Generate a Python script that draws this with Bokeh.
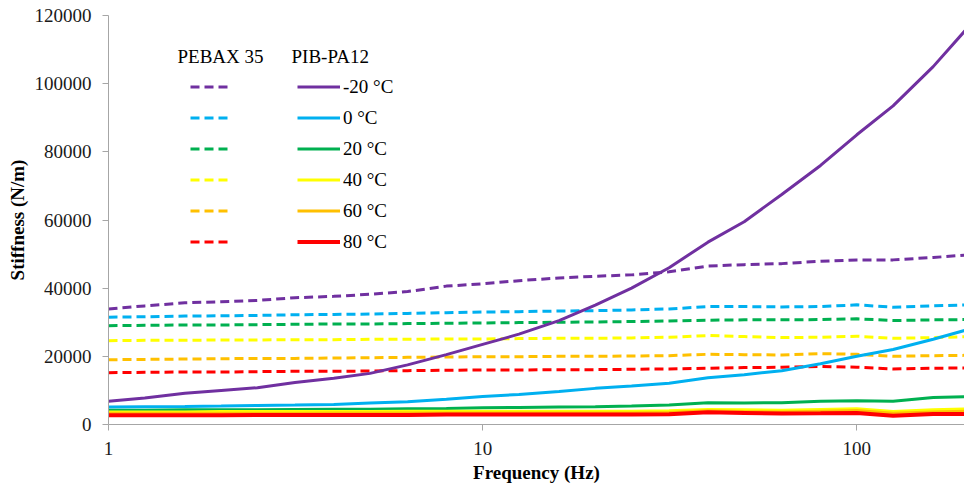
from bokeh.plotting import figure
from bokeh.models import (Range1d, FixedTicker, BasicTickFormatter, NumeralTickFormatter,
                          Legend, LegendItem, Label)
from bokeh.embed import file_html
from bokeh.resources import INLINE

# Frequency sweep (Hz)
freq = [1, 1.25, 1.6, 2, 2.5, 3.15, 4, 5, 6.3, 8, 10, 12.5, 16, 20, 25, 31.5,
        40, 50, 63, 80, 100, 125, 160, 200]

# PEBAX 35 stiffness (N/m)
pebax_m20 = [33900, 34800, 35700, 36000, 36400, 37200, 37600, 38200, 39000, 40600, 41300, 42200,
             43000, 43500, 43900, 44800, 46500, 46900, 47200, 47900, 48300, 48300, 49000, 49800]
pebax_0 = [31500, 31600, 31800, 31900, 32000, 32200, 32300, 32400, 32600, 32800, 33000, 33100,
           33300, 33400, 33600, 33900, 34600, 34600, 34500, 34600, 35100, 34400, 34800, 35100]
pebax_20 = [29000, 29100, 29200, 29200, 29300, 29400, 29500, 29500, 29600, 29700, 29800, 29900,
            30000, 30100, 30200, 30400, 30600, 30700, 30700, 30800, 31000, 30500, 30700, 30800]
pebax_40 = [24600, 24700, 24700, 24800, 24800, 24900, 24900, 25000, 25000, 25100, 25100, 25200,
            25300, 25300, 25400, 25600, 26100, 25800, 25500, 25600, 25900, 25300, 25500, 25800]
pebax_60 = [19000, 19100, 19200, 19300, 19400, 19400, 19500, 19600, 19700, 19800, 19900, 19900,
            20000, 20000, 20100, 20200, 20600, 20500, 20400, 20800, 20600, 20000, 20200, 20300]
pebax_80 = [15200, 15300, 15400, 15400, 15500, 15600, 15600, 15700, 15800, 15900, 16000, 16000,
            16100, 16100, 16200, 16300, 16500, 16700, 16800, 17000, 16800, 16300, 16500, 16600]

# PIB-PA12 stiffness (N/m)
pib_m20 = [6800, 7800, 9200, 10000, 10800, 12300, 13600, 15000, 17500, 20500, 23500, 26500,
           30500, 35000, 40000, 46000, 53500, 59500, 67500, 76000, 85000, 93500, 105000, 117000]
pib_0 = [5100, 5200, 5300, 5400, 5600, 5700, 5900, 6300, 6700, 7400, 8200, 8800,
         9700, 10600, 11300, 12100, 13700, 14600, 15800, 17800, 20000, 22000, 25000, 28000]
pib_20 = [4200, 4200, 4300, 4300, 4300, 4400, 4500, 4500, 4600, 4700, 4900, 5000,
          5100, 5200, 5400, 5700, 6400, 6300, 6400, 6800, 7000, 6800, 7900, 8200]
pib_40 = [3700, 3700, 3700, 3800, 3800, 3800, 3800, 3800, 3900, 3900, 3900, 3900,
          3900, 3900, 3900, 4000, 4400, 4300, 4200, 4400, 4600, 3800, 4300, 4600]
pib_60 = [3300, 3300, 3300, 3300, 3300, 3300, 3400, 3400, 3400, 3400, 3400, 3400,
          3400, 3400, 3400, 3500, 4000, 3800, 3700, 3900, 4100, 3300, 3700, 3900]
pib_80 = [2700, 2700, 2700, 2700, 2800, 2800, 2800, 2800, 2800, 2900, 2900, 2900,
          2900, 2900, 2900, 3000, 3600, 3400, 3200, 3300, 3400, 2600, 3100, 3100]

temps = ["-20 \u00b0C", "0 \u00b0C", "20 \u00b0C", "40 \u00b0C", "60 \u00b0C", "80 \u00b0C"]
colors = ["#7030A0", "#00B0F0", "#00B050", "#FFFF00", "#FFC000", "#FF0000"]
pebax = [pebax_m20, pebax_0, pebax_20, pebax_40, pebax_60, pebax_80]
pib = [pib_m20, pib_0, pib_20, pib_40, pib_60, pib_80]

y_ticks = [0, 20000, 40000, 60000, 80000, 100000, 120000]
x_ticks = [1, 10, 100]

FONT = "Liberation Serif"
FS = "19px"

p = figure(width=964, height=486, x_axis_type="log",
           x_range=Range1d(1, 194), y_range=Range1d(0, 120000),
           output_backend="svg", toolbar_location=None,
           min_border_left=108, min_border_right=0, min_border_top=15, min_border_bottom=62)
p.outline_line_color = None
p.xgrid.visible = False
p.ygrid.visible = False
p.background_fill_color = "white"
p.border_fill_color = "white"

dashed = []
for vals, c in zip(pebax, colors):
    dashed.append(p.line(freq, vals, line_color=c, line_width=3, line_dash="9 5"))
solid = []
for vals, c in zip(pib, colors):
    w = 4 if c == "#FF0000" else 3
    solid.append(p.line(freq, vals, line_color=c, line_width=w))

for ax in (p.xaxis[0], p.yaxis[0]):
    ax.axis_line_color = "#a6a6a6"
    ax.major_tick_line_color = "#a6a6a6"
    ax.minor_tick_line_color = None
    ax.major_tick_in = 0
    ax.major_tick_out = 6
    ax.major_label_text_font = FONT
    ax.major_label_text_font_size = FS
    ax.major_label_text_color = "#1a1a1a"
    ax.axis_label_text_font = FONT
    ax.axis_label_text_font_size = FS
    ax.axis_label_text_font_style = "bold"
    ax.axis_label_text_color = "#000000"

p.yaxis.ticker = FixedTicker(ticks=y_ticks)
p.yaxis.formatter = BasicTickFormatter(use_scientific=False)
p.yaxis.major_label_standoff = 11
p.yaxis.axis_label = "Stiffness (N/m)"
p.yaxis.axis_label_standoff = 4

p.xaxis.ticker = FixedTicker(ticks=x_ticks)
p.xaxis.formatter = NumeralTickFormatter(format="0")
p.xaxis.major_label_standoff = 11
p.xaxis.axis_label = "Frequency (Hz)"
p.xaxis.axis_label_standoff = 4


def make_legend(renderers, labels, x, glyph_w):
    items = [LegendItem(label=lab, renderers=[r]) for lab, r in zip(labels, renderers)]
    return Legend(items=items, location=(x, 171), orientation="vertical",
                  border_line_color=None, background_fill_alpha=0,
                  padding=0, margin=0, spacing=8,
                  glyph_width=glyph_w, glyph_height=23, label_height=23,
                  label_width=0, label_standoff=3,
                  label_text_font=FONT, label_text_font_size=FS,
                  label_text_color="#000000")


p.add_layout(make_legend(dashed, [""] * 6, 82, 42))
p.add_layout(make_legend(solid, temps, 189, 43))

for txt, x in (("PEBAX 35", 69), ("PIB-PA12", 183)):
    p.add_layout(Label(x=x, y=368, x_units="screen", y_units="screen", text=txt,
                       text_font=FONT, text_font_size=FS, text_baseline="middle",
                       text_color="#000000"))

open("out.html", "w").write(file_html(p, INLINE))
